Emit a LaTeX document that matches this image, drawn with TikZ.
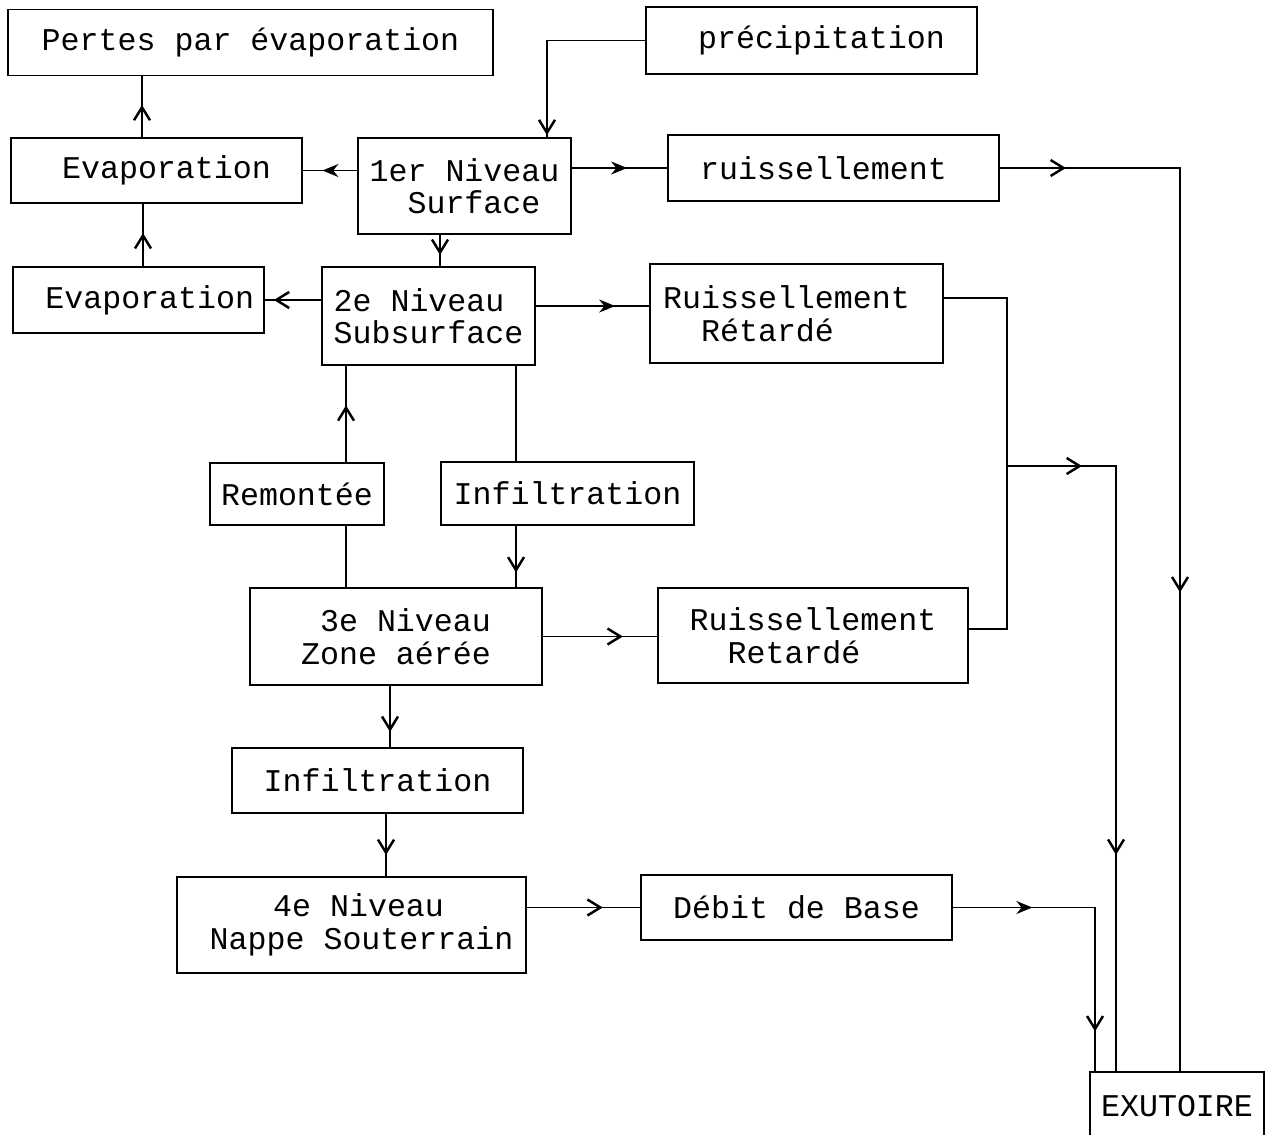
\documentclass[tikz,border=0pt]{standalone}
\usepackage{fontspec}
\newfontfamily\typefont{Liberation Mono}
\usetikzlibrary{arrows.meta, decorations.markings}

\begin{document}
\begin{tikzpicture}[
    x=0.02cm, y=-0.02cm,
    box/.style={rectangle, draw=black, line width=1pt, align=center, inner sep=1pt, font=\typefont\fontsize{18}{18.5}\selectfont},
    link/.style={draw=black, line width=1pt},
    arr/.style={postaction={decorate, decoration={markings, mark=at position #1 with {\arrow{Straight Barb[length=2.6mm, width=3.2mm, line width=1.4pt]}}}}},
    arrf/.style={postaction={decorate, decoration={markings, mark=at position #1 with {\arrow{Stealth[length=3.2mm, width=2.6mm]}}}}}
]
\useasboundingbox (0,0) rectangle (1270,1134);
\clip (0,0) rectangle (1270,1134);

% Nodes
\node [box, minimum width=9.7cm, minimum height=1.32cm] (pertes) at (250.5,42.5) {Pertes par évaporation};
\node [box, minimum width=6.62cm, minimum height=1.34cm] (precip) at (811.5,40.5) {\hspace{0.4cm}précipitation};
\node [box, minimum width=5.82cm, minimum height=1.3cm] (evapA) at (156.5,170.5) {\hspace{0.4cm}Evaporation};
\node [box, minimum width=4.26cm, minimum height=1.92cm, align=left] (surf) at (464.5,186) {1er Niveau\\\phantom{1e}Surface};
\node [box, minimum width=6.62cm, minimum height=1.32cm] (ruis) at (833.5,168) {ruissellement\hspace{0.4cm}};
\node [box, minimum width=5.02cm, minimum height=1.32cm] (evapB) at (138.5,300) {\hspace{0.45cm}Evaporation};
\node [box, minimum width=4.26cm, minimum height=1.96cm, align=left] (subsurf) at (428.5,316) {2e Niveau\\Subsurface};
\node [box, minimum width=5.86cm, minimum height=1.98cm, align=left] (ruisA) at (796.5,313.5) {Ruissellement\hspace*{0.4cm}\\\phantom{Ru}Rétardé};
\node [box, minimum width=3.48cm, minimum height=1.24cm] (remont) at (297,494) {Remontée};
\node [box, minimum width=5.06cm, minimum height=1.26cm] (infilA) at (567.5,493.5) {Infiltration};
\node [box, minimum width=5.84cm, minimum height=1.94cm, align=left] (zone) at (396,636.5) {\phantom{Z}3e Niveau\\Zone aérée};
\node [box, minimum width=6.2cm, minimum height=1.9cm, align=left] (ruisB) at (813,635.5) {Ruissellement\\\phantom{Ru}Retardé};
\node [box, minimum width=5.82cm, minimum height=1.3cm] (infilB) at (377.5,780.5) {Infiltration};
\node [box, minimum width=6.98cm, minimum height=1.92cm, align=left] (nappe) at (351.5,925) {\hspace{1.67cm}4e Niveau\\\hspace{0.4cm}Nappe Souterrain};
\node [box, minimum width=6.22cm, minimum height=1.3cm] (debit) at (796.5,907.5) {Débit de Base};
\node [box, minimum width=3.48cm, minimum height=1.36cm] (exut) at (1177,1106) {EXUTOIRE};

% Connections
\draw [link, arr=0.99] (precip.west) -| ([xshift=1.65cm]surf.north);
\draw [link, arrf=0.64] (surf.west |- evapA.east) -- (evapA.east);
\draw [link, arrf=0.58] (surf.east |- ruis.west) -- (ruis.west);
\draw [link, arr=0.061, arr=0.558] (ruis.east) -| ([xshift=0.06cm]exut.north);
\draw [link, arr=0.53] ([xshift=-0.29cm]evapA.north) coordinate (e1) -- (e1 |- pertes.south);
\draw [link, arr=0.53] ([xshift=0.09cm]evapB.north) coordinate (e2) -- (e2 |- evapA.south);
\draw [link, arr=0.64] ([xshift=-0.49cm]surf.south) coordinate (s1) -- (s1 |- subsurf.north);
\draw [link, arr=0.84] (subsurf.west |- evapB.east) -- (evapB.east);
\draw [link, arrf=0.7] ([yshift=0.2cm]subsurf.east) coordinate (s2) -- (s2 -| ruisA.west);

% retarded runoff join
\coordinate (jn) at (1007,466);
\draw [link] ([yshift=0.31cm]ruisA.east) -| (jn);
\draw [link] ([yshift=0.13cm]ruisB.east) -| (jn);
\draw [link, arr=0.105, arr=0.697] (jn) -| ([xshift=-1.22cm]exut.north);

\draw [link, arr=0.59] ([xshift=0.98cm]remont.north) coordinate (m1) -- (m1 |- subsurf.south);
\draw [link] (remont.south -| m1) -- (zone.north -| m1);
\coordinate (i1) at ([xshift=-1.03cm]infilA.north);
\draw [link] (subsurf.south -| i1) -- (i1);
\draw [link, arr=0.76] (infilA.south -| i1) -- (zone.north -| i1);
\draw [link, arr=0.7] (zone.east) -- (zone.east -| ruisB.west);
\draw [link, arr=0.75] ([xshift=-0.12cm]zone.south) coordinate (z1) -- (z1 |- infilB.north);
\draw [link, arr=0.66] ([xshift=0.17cm]infilB.south) coordinate (f1) -- (f1 |- nappe.north);
\draw [link, arr=0.67] (nappe.east |- debit.west) -- (debit.west);
\draw [link, arrf=0.26, arr=0.87] (debit.east) -| ([xshift=-1.64cm]exut.north);
\end{tikzpicture}
\end{document}
